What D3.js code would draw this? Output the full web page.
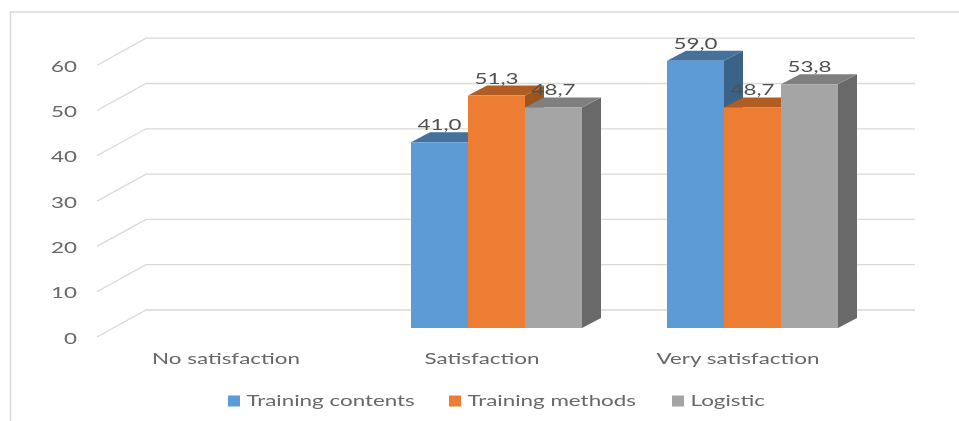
<!DOCTYPE html>
<html>
<head>
<meta charset="utf-8">
<script src="https://cdn.jsdelivr.net/npm/d3@7"></script>
<style>
  html, body { margin: 0; padding: 0; background: #fff; }
  svg { display: block; }
  text { font-family: Lato, "Open Sans", sans-serif; font-size: 16px; fill: #676767; }
</style>
</head>
<body>
<svg id="chart"></svg>
<script>
const categories = ['No satisfaction', 'Satisfaction', 'Very satisfaction'];
const series_names = ['Training contents', 'Training methods', 'Logistic'];
const training_contents = [null, 41.0, 59.0];
const training_methods = [null, 51.3, 48.7];
const logistic = [null, 48.7, 53.8];
const y_ticks = [0, 10, 20, 30, 40, 50, 60];

const series_values = [training_contents, training_methods, logistic];
const front_colors = ['#5b9bd5', '#ed7d31', '#a5a5a5'];
const top_colors = ['#44729d', '#b05c22', '#7f7f7f'];
const side_colors = ['#3b6488', '#9c541f', '#696969'];

const width = 959, height = 421;
const depth_x = 19, depth_y = 10;   // bar depth
const text_stretch = 1.4;           // the picture's text is stretched sideways

const svg = d3.select('#chart').attr('width', width).attr('height', height);

svg.append('defs').append('filter')
  .attr('id', 'soft')
  .attr('x', 0).attr('y', 0).attr('width', 1).attr('height', 1)
  .attr('filterUnits', 'objectBoundingBox')
  .append('feGaussianBlur').attr('stdDeviation', 0.45);

const root = svg.append('g').attr('filter', 'url(#soft)');
root.append('rect').attr('width', width).attr('height', height).attr('fill', '#fff');

const x = d3.scaleBand().domain(categories).range([112.5, 880.5]);
const x_series = d3.scaleBand().domain(series_names).range([42.5, 213.5]);
const y = d3.scaleLinear().domain([0, 60]).range([328, 56.2]);

// outer frame, only top and left are visible
root.append('path')
  .attr('d', d3.line()([[width, 12], [10.5, 12], [10.5, height]]))
  .attr('fill', 'none')
  .attr('stroke', '#d9d9d9')
  .attr('stroke-width', 1.5);

// walls: slanted side line + back line for each tick
const wall = root.append('g');
wall.selectAll('path')
  .data(y_ticks)
  .join('path')
  .attr('d', d => d3.line()([[97, y(d) + 9], [146, y(d) - 18], [915, y(d) - 18]]))
  .attr('fill', 'none')
  .attr('stroke', '#d9d9d9')
  .attr('stroke-width', 1.3);

// value axis
const axis_g = root.append('g')
  .attr('transform', 'translate(77,9)')
  .call(d3.axisLeft(y).tickValues(y_ticks).tickSize(0).tickFormat(d3.format('d')));
axis_g.select('.domain').remove();
axis_g.selectAll('text')
  .attr('x', 0)
  .attr('dy', 6)
  .attr('text-anchor', 'end')
  .attr('transform', `scale(${text_stretch},1)`)
  .style('font-family', 'Lato, "Open Sans", sans-serif')
  .style('font-size', '16px');

// bars, one group per category
const bar_data = categories.flatMap((cat, i) =>
  series_names.map((name, s) => ({cat, name, s, value: series_values[s][i]}))
).filter(d => d.value !== null);

const bars = root.append('g').selectAll('g')
  .data(bar_data)
  .join('g');

const bar_left = d => x(d.cat) + x_series(d.name);
const bar_right = d => bar_left(d) + x_series.bandwidth();

bars.append('path')  // side
  .attr('fill', d => side_colors[d.s])
  .attr('d', d => d3.line()([
    [bar_right(d), y(d.value)],
    [bar_right(d) + depth_x, y(d.value) - depth_y],
    [bar_right(d) + depth_x, y(0) - depth_y],
    [bar_right(d), y(0)]
  ]) + 'Z');

bars.append('path')  // top
  .attr('fill', d => top_colors[d.s])
  .attr('d', d => d3.line()([
    [bar_left(d), y(d.value)],
    [bar_left(d) + depth_x, y(d.value) - depth_y],
    [bar_right(d) + depth_x, y(d.value) - depth_y],
    [bar_right(d), y(d.value)]
  ]) + 'Z');

bars.append('rect')  // front
  .attr('fill', d => front_colors[d.s])
  .attr('x', bar_left)
  .attr('y', d => y(d.value))
  .attr('width', x_series.bandwidth())
  .attr('height', d => y(0) - y(d.value));

// value labels go over every bar
const label_format = d => d.toFixed(1).replace('.', ',');
root.append('g').selectAll('text')
  .data(bar_data)
  .join('text')
  .attr('text-anchor', 'middle')
  .attr('transform', d => `translate(${bar_left(d) + x_series.bandwidth() / 2},${y(d.value) - 12}) scale(${text_stretch},1)`)
  .style('fill', '#505050')
  .text(d => label_format(d.value));

// category labels
root.append('g').selectAll('text')
  .data(categories)
  .join('text')
  .attr('text-anchor', 'middle')
  .attr('transform', d => `translate(${x(d) + x.bandwidth() / 2 - 14.5},364) scale(${text_stretch},1)`)
  .text(d => d);

// legend
const legend_x = d3.scaleOrdinal().domain(series_names).range([228, 449, 672]);
const legend = root.append('g').selectAll('g')
  .data(series_names)
  .join('g')
  .attr('transform', d => `translate(${legend_x(d)},0)`);
legend.append('rect')
  .attr('y', 395.5).attr('width', 12).attr('height', 11)
  .attr('fill', (d, i) => front_colors[i]);
legend.append('text')
  .attr('transform', `translate(18.5,406) scale(${text_stretch},1)`)
  .text(d => d);
</script>
</body>
</html>
